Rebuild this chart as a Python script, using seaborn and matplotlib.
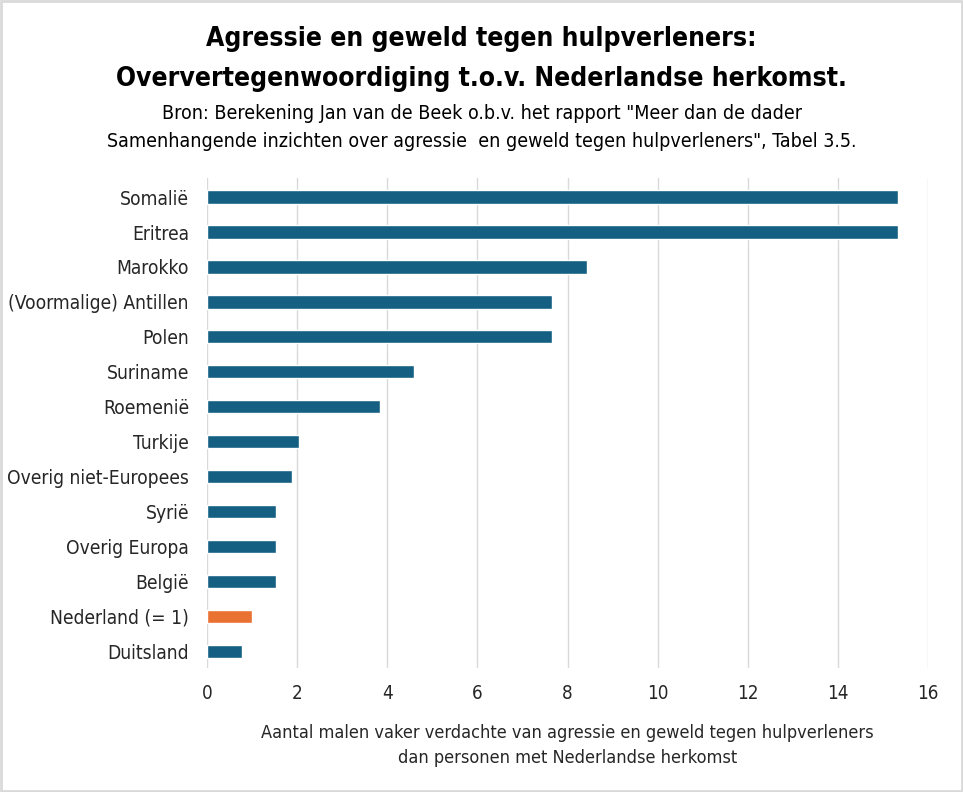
import matplotlib
matplotlib.use("Agg")
import matplotlib.pyplot as plt
import seaborn as sns
import pandas as pd

categories = ["Somalië", "Eritrea", "Marokko", "(Voormalige) Antillen", "Polen",
              "Suriname", "Roemenië", "Turkije", "Overig niet-Europees", "Syrië",
              "Overig Europa", "België", "Nederland (= 1)", "Duitsland"]
values = [15.33, 15.33, 8.43, 7.66, 7.66, 4.59, 3.84, 2.04, 1.89, 1.53, 1.53, 1.53, 1.0, 0.78]
ticks = [0, 2, 4, 6, 8, 10, 12, 14, 16]

title = "Agressie en geweld tegen hulpverleners:\nOververtegenwoordiging t.o.v. Nederlandse herkomst."
subtitle = ('Bron: Berekening Jan van de Beek o.b.v. het rapport "Meer dan de dader\n'
            'Samenhangende inzichten over agressie  en geweld tegen hulpverleners", Tabel 3.5.')
xlabel = "Aantal malen vaker verdachte van agressie en geweld tegen hulpverleners\ndan personen met Nederlandse herkomst"

sns.set_theme(style="white")
plt.rcParams["font.family"] = ["DejaVu Sans"]
plt.rcParams["font.stretch"] = "condensed"

blue = "#156082"
orange = "#E97132"
palette = {c: (orange if c.startswith("Nederland") else blue) for c in categories}

df = pd.DataFrame({"cat": categories, "val": values})

fig = plt.figure(figsize=(9.63, 7.92), dpi=100)
ax = fig.add_axes([0.215, 0.157, 0.7487, 0.618])
sns.barplot(data=df, y="cat", x="val", hue="cat", palette=palette, legend=False,
            width=0.38, ax=ax, orient="h", saturation=1)

ax.set_xlim(0, 16)
ax.set_ylim(13.47, -0.54)
ax.set_xticks(ticks)
ax.set_xticklabels([str(t) for t in ticks], fontsize=13.5, color="#262626")
ax.tick_params(axis="y", labelsize=13.8, colors="#262626", length=0, pad=13)
ax.tick_params(axis="x", length=0, pad=12)
ax.xaxis.grid(True, color="#d9d9d9", linewidth=1)
ax.set_axisbelow(True)
for s in ax.spines.values():
    s.set_visible(False)
ax.set_ylabel("")
ax.set_xlabel(xlabel, fontsize=13, color="#262626", labelpad=15, linespacing=1.5)

fig.text(0.5, 0.967, title, ha="center", va="top", fontsize=19, fontweight="bold",
         color="black", linespacing=1.7)
fig.text(0.5, 0.869, subtitle, ha="center", va="top", fontsize=14, color="black",
         linespacing=1.6)

border = plt.Rectangle((0.001, 0.001), 0.998, 0.998, transform=fig.transFigure,
                       fill=False, edgecolor="#d9d9d9", linewidth=2)
fig.patches.append(border)

fig.savefig("out.png", dpi=100, facecolor="white")
